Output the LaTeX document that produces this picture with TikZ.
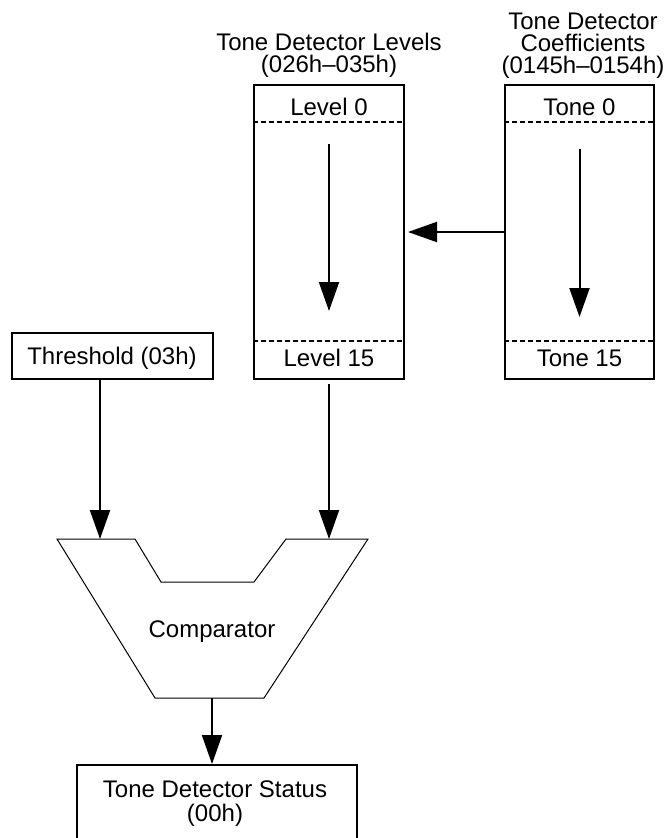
\documentclass[tikz,border=0pt]{standalone}
\usepackage{fontspec}
\setmainfont{Liberation Sans}
\usetikzlibrary{arrows.meta,calc}

\tikzset{
  regbox/.style={draw, line width=2pt, inner sep=0pt},
  rowsep/.style={line width=1.5pt, dash pattern=on 4.5pt off 3.5pt},
  flow/.style={line width=2pt, -{Triangle[length=29pt,width=20pt]}},
  lbl/.style={font=\fontsize{24}{22}\selectfont, align=center, inner sep=0pt},
}

\begin{document}
\begin{tikzpicture}[x=1pt,y=-1pt]
\useasboundingbox (0,0) rectangle (670,838);
\clip (0,0) rectangle (670,838);

% register blocks
\node[regbox, minimum width=150pt, minimum height=294pt] (lev) at (329,232) {};
\node[regbox, minimum width=149pt, minimum height=294pt] (coef) at (579.5,232) {};
\node[regbox, minimum width=201pt, minimum height=46pt] (thr) at (112.5,356) {};
\node[regbox, minimum width=280pt, minimum height=90pt] (stat) at (217,810) {};

\draw[rowsep] ($(lev.north west)+(0,38)$) -- ($(lev.north east)+(0,38)$);
\draw[rowsep] ($(lev.south west)+(0,-39)$) -- ($(lev.south east)+(0,-39)$);
\draw[rowsep] ($(coef.north west)+(0,38)$) -- ($(coef.north east)+(0,38)$);
\draw[rowsep] ($(coef.south west)+(0,-39)$) -- ($(coef.south east)+(0,-39)$);

% comparator
\coordinate (cmpA) at (100,539);
\coordinate (cmpB) at (329,539);
\coordinate (cmpOut) at (212,698);
\draw[line width=1pt, line join=miter] (57,539) -- (135,539) -- (161,582) -- (254,582)
  -- (286,539) -- (368,539) -- (264,698) -- (155,698) -- cycle;

% labels
\node[lbl, anchor=north] (levT) at (329,33) {Tone Detector Levels\\(026h--035h)};
\node[lbl, anchor=north] (coefT) at (583,13) {Tone Detector\\Coefficients\\(0145h--0154h)};
\node[lbl, anchor=base] (lev0) at (329,115) {Level 0};
\node[lbl, anchor=base] (lev15) at (329,366) {Level 15};
\node[lbl, anchor=base] (tone0) at (579.5,115) {Tone 0};
\node[lbl, anchor=base] (tone15) at (579.5,366) {Tone 15};
\node[lbl, anchor=base] (thrT) at (112,364) {Threshold (03h)};
\node[lbl] (cmpT) at (212,632) {Comparator};
\node[lbl, anchor=north] (statT) at (215,781) {Tone Detector Status\\[2pt](00h)};

% connections
\draw[flow] ($(lev.north)+(0,60)$) -- ($(lev.south)+(0,-69)$);
\draw[flow] ($(coef.north)+(0,65)$) -- ($(coef.south)+(0,-63)$);
\draw[flow, shorten >=3pt] (coef.west) -- (lev.east);
\draw[flow] (cmpA |- thr.south) -- (cmpA);
\draw[flow, shorten <=4pt] (lev.south) -- (cmpB);
\draw[flow] (cmpOut) -- (cmpOut |- stat.north);

\end{tikzpicture}
\end{document}
